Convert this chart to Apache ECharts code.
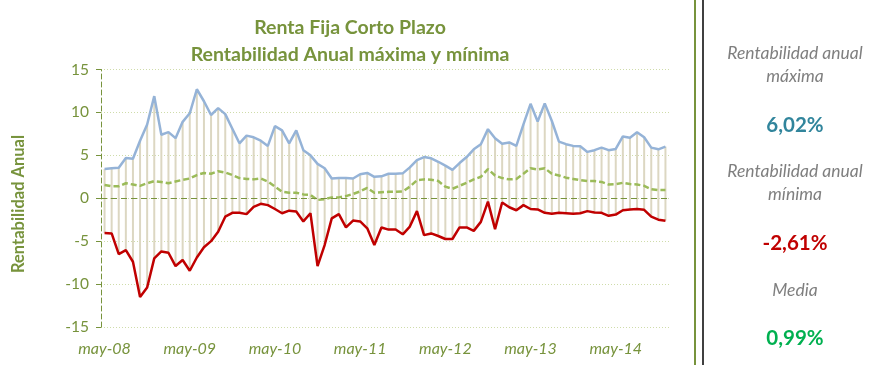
<!DOCTYPE html>
<html>
<head>
<meta charset="utf-8">
<script src="https://cdn.jsdelivr.net/npm/echarts@6/dist/echarts.min.js"></script>
<style>
html,body{margin:0;padding:0;background:#fff;}
#chart{width:875px;height:365px;}
</style>
</head>
<body>
<div id="chart"></div>
<script>
const categories = [
 'may-08','jun-08','jul-08','ago-08','sep-08','oct-08','nov-08','dic-08',
 'ene-09','feb-09','mar-09','abr-09','may-09','jun-09','jul-09','ago-09','sep-09','oct-09','nov-09','dic-09',
 'ene-10','feb-10','mar-10','abr-10','may-10','jun-10','jul-10','ago-10','sep-10','oct-10','nov-10','dic-10',
 'ene-11','feb-11','mar-11','abr-11','may-11','jun-11','jul-11','ago-11','sep-11','oct-11','nov-11','dic-11',
 'ene-12','feb-12','mar-12','abr-12','may-12','jun-12','jul-12','ago-12','sep-12','oct-12','nov-12','dic-12',
 'ene-13','feb-13','mar-13','abr-13','may-13','jun-13','jul-13','ago-13','sep-13','oct-13','nov-13','dic-13',
 'ene-14','feb-14','mar-14','abr-14','may-14','jun-14','jul-14','ago-14','sep-14','oct-14','nov-14','dic-14'
];
const maxVals = [3.4,3.5,3.55,4.7,4.6,6.7,8.6,11.9,7.4,7.7,7.0,8.9,9.9,12.7,11.3,9.7,10.5,9.8,8.1,6.4,
 7.3,7.1,6.7,6.1,8.4,7.9,6.4,7.9,5.6,5.0,4.0,3.5,2.3,2.35,2.35,2.3,2.8,2.95,2.5,2.55,
 2.85,2.85,2.9,3.6,4.45,4.8,4.65,4.25,3.8,3.3,4.1,4.8,5.7,6.3,8.05,7.0,6.35,6.5,6.1,8.6,
 11.0,8.95,11.05,9.0,6.6,6.3,6.1,6.05,5.4,5.6,5.9,5.6,5.75,7.2,7.05,7.7,7.1,5.9,5.7,6.02];
const meanVals = [1.55,1.4,1.4,1.75,1.6,1.45,1.75,2.0,1.9,1.75,1.95,2.15,2.3,2.7,2.95,2.85,3.15,3.0,2.7,2.35,
 2.25,2.2,2.3,1.95,1.35,0.75,0.65,0.65,0.45,0.4,-0.2,-0.1,0.1,0.1,0.25,0.5,0.8,1.2,0.65,0.7,
 0.75,0.75,0.8,1.35,2.1,2.2,2.15,2.0,1.35,1.1,1.45,1.8,2.2,2.5,3.4,2.65,2.35,2.2,2.25,2.85,
 3.5,3.35,3.5,2.85,2.65,2.4,2.25,2.1,2.0,2.0,1.9,1.6,1.65,1.8,1.65,1.6,1.45,1.05,0.95,0.95];
const minVals = [-4.05,-4.1,-6.5,-6.05,-7.4,-11.5,-10.4,-7.0,-6.2,-6.35,-7.9,-7.2,-8.45,-6.9,-5.7,-5.0,-3.9,-2.15,-1.7,-1.7,
 -1.85,-1.0,-0.65,-0.8,-1.25,-1.75,-1.45,-1.55,-2.7,-1.75,-7.9,-5.45,-2.35,-1.85,-3.4,-2.6,-2.7,-3.5,-5.45,-3.4,
 -3.65,-3.65,-4.2,-3.3,-1.5,-4.3,-4.1,-4.4,-4.75,-4.75,-3.4,-3.4,-3.8,-2.75,-0.4,-3.6,-0.5,-1.05,-1.4,-0.8,
 -1.25,-1.3,-1.7,-1.8,-1.7,-1.75,-1.8,-1.75,-1.5,-1.65,-1.7,-2.05,-1.9,-1.4,-1.3,-1.25,-1.35,-2.15,-2.5,-2.61];
const yTicks = {min: -15, max: 15, interval: 5};
const titleLines = ['Renta Fija Corto Plazo', 'Rentabilidad Anual máxima y mínima'];
const yAxisName = 'Rentabilidad Anual';
const panelLabels = ['Rentabilidad anual\nmáxima', 'Rentabilidad anual\nmínima', 'Media'];
const panelValues = ['6,02%', '-2,61%', '0,99%'];

const FONT = 'Lato, "Open Sans", sans-serif';
const OLIVE = '#77933c';

const chart = echarts.init(document.getElementById('chart'), null, {renderer: 'canvas'});
const option = {
  animation: false,
  backgroundColor: '#ffffff',
  title: {
    text: titleLines.join('\n'),
    left: 345, top: 9, textAlign: 'center',
    textStyle: {fontFamily: FONT, fontSize: 19.5, fontWeight: 'bold', color: OLIVE, lineHeight: 27}
  },
  grid: {left: 101, right: 206, top: 69.5, bottom: 38},
  xAxis: {
    type: 'category', data: categories, boundaryGap: true,
    axisLine: {show: false}, axisTick: {show: false},
    axisLabel: {interval: 11, margin: 14, fontFamily: FONT, fontSize: 16, fontStyle: 'italic', color: OLIVE},
    splitLine: {show: false}
  },
  yAxis: {
    type: 'value', min: yTicks.min, max: yTicks.max, interval: yTicks.interval,
    axisLine: {show: true, lineStyle: {color: OLIVE, type: [5, 3], width: 1}},
    axisTick: {show: true, length: 5, lineStyle: {color: OLIVE}},
    axisLabel: {margin: 12, fontFamily: FONT, fontSize: 15.5, color: OLIVE},
    splitLine: {show: true, lineStyle: {color: '#cfdcaa', type: [1, 2], width: 1}}
  },
  graphic: [
    {type: 'text', x: 19, y: 204, rotation: Math.PI / 2,
     style: {text: yAxisName, fontFamily: FONT, fontSize: 16.5, fontWeight: 'bold', fill: OLIVE, textAlign: 'center', textVerticalAlign: 'middle'}},
    {type: 'line', shape: {x1: 695, y1: 0, x2: 695, y2: 365}, style: {stroke: '#77933c', lineWidth: 2}},
    {type: 'line', shape: {x1: 703, y1: 0, x2: 703, y2: 365}, style: {stroke: '#000', lineWidth: 1.5}},
    {type: 'text', x: 795, y: 65, style: {text: panelLabels[0], fontFamily: FONT, fontSize: 17.5, fontStyle: 'italic', fill: '#7f7f7f', textAlign: 'center', textVerticalAlign: 'middle', lineHeight: 23}},
    {type: 'text', x: 795, y: 125, style: {text: panelValues[0], fontFamily: FONT, fontSize: 20.5, fontWeight: 'bold', fill: '#31859c', textAlign: 'center', textVerticalAlign: 'middle'}},
    {type: 'text', x: 795, y: 183, style: {text: panelLabels[1], fontFamily: FONT, fontSize: 17.5, fontStyle: 'italic', fill: '#7f7f7f', textAlign: 'center', textVerticalAlign: 'middle', lineHeight: 23}},
    {type: 'text', x: 795, y: 243, style: {text: panelValues[1], fontFamily: FONT, fontSize: 20.5, fontWeight: 'bold', fill: '#c00000', textAlign: 'center', textVerticalAlign: 'middle'}},
    {type: 'text', x: 795, y: 290, style: {text: panelLabels[2], fontFamily: FONT, fontSize: 17.5, fontStyle: 'italic', fill: '#7f7f7f', textAlign: 'center', textVerticalAlign: 'middle'}},
    {type: 'text', x: 795, y: 338, style: {text: panelValues[2], fontFamily: FONT, fontSize: 20.5, fontWeight: 'bold', fill: '#00b050', textAlign: 'center', textVerticalAlign: 'middle'}}
  ],
  series: [
    {
      type: 'custom', name: 'hilo', silent: true, z: 1,
      encode: {x: 0, y: [1, 2]},
      data: maxVals.map((v, i) => [i, v, minVals[i]]),
      renderItem: function (params, api) {
        const i = api.value(0);
        const top = api.coord([i, api.value(1)]);
        const bot = api.coord([i, api.value(2)]);
        return {type: 'line', shape: {x1: top[0], y1: top[1], x2: bot[0], y2: bot[1]},
                style: {stroke: '#dcd7c2', lineWidth: 2}};
      }
    },
    {
      type: 'line', name: 'Media', data: meanVals, symbol: 'none', z: 3,
      lineStyle: {color: '#9bbb59', width: 2.5, type: [6, 3]},
      markLine: {silent: true, symbol: 'none', label: {show: false},
        lineStyle: {color: OLIVE, type: [6, 4], width: 1.2},
        data: [{yAxis: 0}]}
    },
    {type: 'line', name: 'Máxima', data: maxVals, symbol: 'none', z: 4,
     lineStyle: {color: '#95b3d7', width: 2.5}},
    {type: 'line', name: 'Mínima', data: minVals, symbol: 'none', z: 4,
     lineStyle: {color: '#c00000', width: 2.5}}
  ]
};
chart.setOption(option);
</script>
</body>
</html>
